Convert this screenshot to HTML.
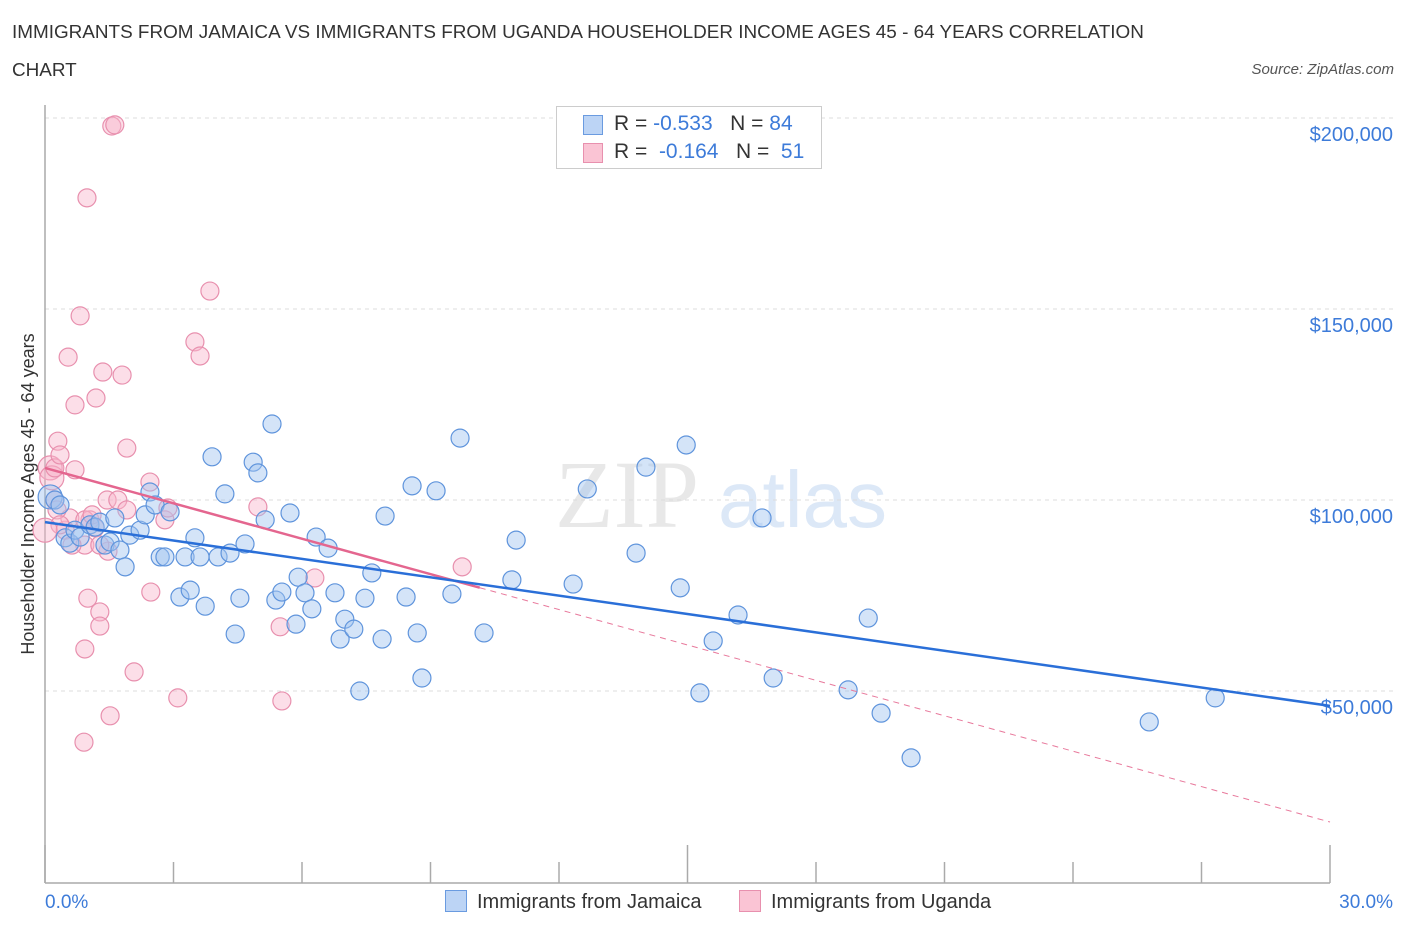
<!DOCTYPE html>
<html><head><meta charset="utf-8"><style>
body{margin:0;background:#fff;font-family:"Liberation Sans",sans-serif;}
#wrap{position:relative;width:1406px;height:930px;overflow:hidden;}
.t{position:absolute;white-space:nowrap;}
</style></head><body>
<div id="wrap">
<div class="t" style="left:12px;top:14px;font-size:18.9px;color:#333;line-height:38px;">IMMIGRANTS FROM JAMAICA VS IMMIGRANTS FROM UGANDA HOUSEHOLDER INCOME AGES 45 - 64 YEARS CORRELATION<br>CHART</div>
<div class="t" style="right:12px;top:61px;font-size:15px;color:#555;font-style:italic;">Source: ZipAtlas.com</div>
<svg id="svg" width="1406" height="930" style="position:absolute;left:0;top:0"></svg>
</div>
<script>
const blueX=[0.12,0.23,0.35,0.47,0.58,0.70,0.82,1.05,1.17,1.28,1.40,1.52,1.63,1.75,1.87,1.98,2.22,2.34,2.45,2.57,2.69,2.80,2.92,3.15,3.27,3.39,3.50,3.62,3.74,3.90,4.04,4.20,4.32,4.44,4.55,4.67,4.86,4.97,5.14,5.30,5.39,5.53,5.72,5.86,5.91,6.07,6.23,6.33,6.61,6.77,6.89,7.00,7.21,7.35,7.47,7.63,7.87,7.94,8.43,8.57,8.69,8.80,9.13,9.50,9.69,10.25,10.90,11.00,12.33,12.66,13.80,14.03,14.83,14.97,15.29,15.60,16.18,16.74,17.00,18.75,19.22,19.52,20.22,25.78,27.32];
const blueY=[100800,100000,98700,90100,88700,92100,90300,93500,92900,94200,88200,89000,95300,86900,82500,90800,92100,96100,102100,98700,85100,85100,96900,74600,85100,76400,90100,85100,72200,111300,85100,101600,86100,64900,74300,88500,109900,107100,94800,119900,73800,75900,96600,67500,79800,75700,71500,90300,87400,75700,63600,68800,66200,50000,74300,80900,63600,95800,74600,103700,65200,53400,102400,75400,116200,65200,79100,89500,78000,102900,86100,108600,77000,114400,49500,63100,69900,95300,53400,50300,69100,44200,32500,41900,48200];
const pinkX=[0.12,0.16,0.23,0.30,0.35,0.47,0.58,0.70,0.54,0.70,0.82,0.93,0.98,1.00,1.05,1.17,1.19,1.28,1.28,1.35,1.45,1.47,1.52,1.56,1.63,1.70,1.80,1.91,1.91,2.08,2.45,2.47,2.80,2.87,3.10,3.50,3.62,3.85,4.97,5.49,5.53,6.30,9.74,0.23,0.28,0.35,0.63,0.93,1.10,1.28,0.00,0.91,0.93];
const pinkY=[108400,105800,108400,115400,111800,92100,95300,124900,137400,107900,148200,88200,179100,74300,94800,92700,126700,70700,67000,133500,100000,86600,43500,197900,198200,100000,132700,113600,97400,55000,104700,75900,94800,97900,48200,141400,137700,154700,98200,66800,47400,79600,82500,100000,97400,93500,88200,94800,96100,88200,92100,36600,61000];
const blueTrend=[94200,46100];
const pinkTrend=[108400,15700];
const pinkSolidEnd=10.15;
const yTicks=[50000,100000,150000,200000];
const yTickLabels=["$50,000","$100,000","$150,000","$200,000"];

const X0=45,X1=1330;
const xs=v=>X0+(X1-X0)*v/30;
const ys=v=>500-(v-100000)*191/50000;
const svg=document.getElementById('svg');
const NS='http://www.w3.org/2000/svg';
function mk(tag,attrs,parent){const e=document.createElementNS(NS,tag);for(const k in attrs)e.setAttribute(k,attrs[k]);(parent||svg).appendChild(e);return e;}

let wm=mk('text',{x:555,y:527,'font-size':96,fill:'#e8e8e8','font-family':'Liberation Serif, serif'});wm.textContent='ZIP';


let wm2=mk('text',{x:718,y:527,'font-size':80,fill:'#dce8f7','font-family':'Liberation Sans, sans-serif'});wm2.textContent='atlas';



yTicks.forEach((v,i)=>{
  const g=mk('line',{x1:X0,x2:1395,y1:ys(v),y2:ys(v),stroke:'#dcdcdc','stroke-dasharray':'4,4'});
  
  
  const t=mk('text',{x:1393,y:ys(v)+23,'text-anchor':'end','font-size':20,fill:'#3d7bd9'});
  t.textContent=yTickLabels[i];
  
  
});
let ax=mk('line',{x1:X0,x2:X0,y1:105,y2:883,stroke:'#aaa','stroke-width':1.5});


let bx=mk('line',{x1:X0,x2:X1,y1:883,y2:883,stroke:'#aaa','stroke-width':1.5});


for(let i=0;i<=10;i++){
  const tk=mk('line',{x1:xs(i*3),x2:xs(i*3),y1:i%5==0?845:862,y2:883,stroke:'#aaa','stroke-width':1.5});
  
  
}
let xl=mk('text',{x:45,y:908,'font-size':19,fill:'#3d7bd9'});xl.textContent='0.0%';


let xr=mk('text',{x:1393,y:908,'font-size':19,fill:'#3d7bd9','text-anchor':'end'});xr.textContent='30.0%';


let yt=mk('text',{x:34,y:494,'font-size':18,fill:'#333','text-anchor':'middle',transform:'rotate(-90 34 494)'});yt.textContent='Householder Income Ages 45 - 64 years';



function pts(X,Y,fill,stroke,name){
  X.forEach((x,i)=>{
    const r=(x<0.2)?12:9;
    const c=mk('circle',{cx:xs(x),cy:ys(Y[i]),r:r,fill:fill,stroke:stroke,'stroke-width':1.2});
    
    
  });
}
pts(pinkX,pinkY,'rgba(248,182,204,0.45)','#e890ae','uganda-point');
pts(blueX,blueY,'rgba(160,195,240,0.45)','#5f94dc','jamaica-point');

const pyAt=x=>pinkTrend[0]+(pinkTrend[1]-pinkTrend[0])*x/30;
let pd=mk('line',{x1:xs(pinkSolidEnd),y1:ys(pyAt(pinkSolidEnd)),x2:xs(30),y2:ys(pinkTrend[1]),stroke:'#e8799c','stroke-width':1,'stroke-dasharray':'6,5'});


let ps=mk('line',{x1:xs(0),y1:ys(pinkTrend[0]),x2:xs(pinkSolidEnd),y2:ys(pyAt(pinkSolidEnd)),stroke:'#e4668f','stroke-width':2.5});


let bl=mk('line',{x1:xs(0),y1:ys(blueTrend[0]),x2:xs(30),y2:ys(blueTrend[1]),stroke:'#2a6fd8','stroke-width':2.5});


</script>
<div class="t" style="left:556px;top:106px;width:264px;height:61px;border:1px solid #ccc;background:#fff;font-size:21px;">
 <div style="position:absolute;left:26px;top:8px;width:18px;height:18px;background:#bcd4f5;border:1px solid #6a9be0"></div>
 <div class="t" style="left:57px;top:5px;color:#333">R = <span style="color:#3d7bd9">-0.533</span>&nbsp;&nbsp;&nbsp;N = <span style="color:#3d7bd9">84</span></div>
 <div style="position:absolute;left:26px;top:36px;width:18px;height:18px;background:#fac4d4;border:1px solid #e890ae"></div>
 <div class="t" style="left:57px;top:33px;color:#333">R = &nbsp;<span style="color:#3d7bd9">-0.164</span>&nbsp;&nbsp;&nbsp;N = &nbsp;<span style="color:#3d7bd9">51</span></div>
</div>
<div class="t" style="left:445px;top:890px;font-size:20px;color:#333;">
 <span style="display:inline-block;width:20px;height:20px;background:#bcd4f5;border:1px solid #6a9be0;vertical-align:-4px;margin-right:10px"></span>Immigrants from Jamaica</div>
<div class="t" style="left:739px;top:890px;font-size:20px;color:#333;">
 <span style="display:inline-block;width:20px;height:20px;background:#fac4d4;border:1px solid #e890ae;vertical-align:-4px;margin-right:10px"></span>Immigrants from Uganda</div>
</body></html>
